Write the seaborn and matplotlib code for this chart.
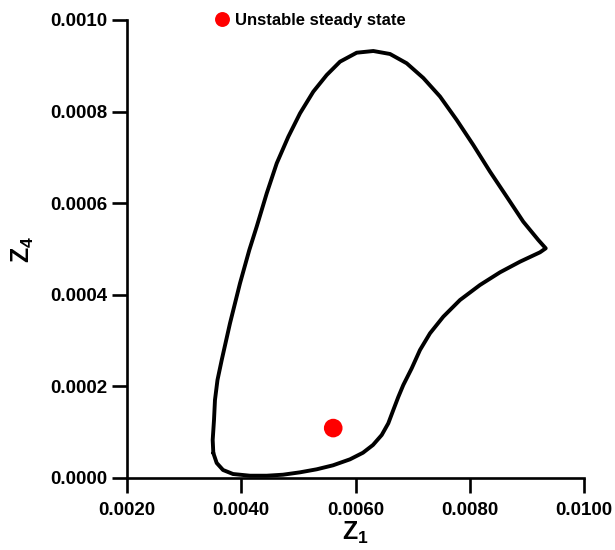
import matplotlib
matplotlib.use("Agg")
import matplotlib.pyplot as plt
import seaborn as sns
import pandas as pd
from matplotlib.ticker import FormatStrFormatter

# Limit cycle trajectory (Z1, Z4)
z1 = [0.003511, 0.003500, 0.003523, 0.003540, 0.003584, 0.003658, 0.003803, 0.003978,
      0.004141, 0.004270, 0.004446, 0.004621, 0.004824, 0.005029, 0.005261, 0.005496,
      0.005729, 0.006021, 0.006312, 0.006604, 0.006896, 0.007187, 0.007479, 0.007772,
      0.008062, 0.008355, 0.008647, 0.008937, 0.009200, 0.009330, 0.009230, 0.008880,
      0.008530, 0.008179, 0.007829, 0.007537, 0.007304, 0.007129, 0.006984, 0.006837,
      0.006749, 0.006662, 0.006574, 0.006459, 0.006306, 0.006131, 0.005904, 0.005606,
      0.005321, 0.005029, 0.004731, 0.004446, 0.004153, 0.003856, 0.003681, 0.003570,
      0.003511]
z4 = [0.0000546, 0.0000830, 0.0001266, 0.0001703, 0.0002140, 0.0002576, 0.0003378, 0.0004251,
      0.0004978, 0.0005487, 0.0006216, 0.0006871, 0.0007452, 0.0007963, 0.0008435, 0.0008799,
      0.0009090, 0.0009286, 0.0009323, 0.0009258, 0.0009055, 0.0008734, 0.0008330, 0.0007817,
      0.0007271, 0.0006688, 0.0006142, 0.0005596, 0.0005197, 0.0005015, 0.0004928, 0.0004723,
      0.0004491, 0.0004214, 0.0003886, 0.0003522, 0.0003159, 0.0002795, 0.0002395, 0.0002031,
      0.0001769, 0.0001485, 0.0001194, 0.0000939, 0.0000721, 0.0000552, 0.0000408, 0.0000277,
      0.0000190, 0.0000124, 0.0000072, 0.0000050, 0.0000050, 0.0000087, 0.0000175, 0.0000328,
      0.0000546]

# Unstable steady state
ss_z1 = [0.00561]
ss_z4 = [0.000109]
ss_label = "Unstable steady state"

x_ticks = [0.002, 0.004, 0.006, 0.008, 0.010]
y_ticks = [0.0, 0.0002, 0.0004, 0.0006, 0.0008, 0.0010]

sns.set_theme(style="ticks")
plt.rcParams['font.family'] = ['Liberation Sans', 'DejaVu Sans']
plt.rcParams['font.weight'] = 'bold'
plt.rcParams['mathtext.fontset'] = 'custom'
plt.rcParams['mathtext.bf'] = 'Liberation Sans:bold'
plt.rcParams['mathtext.rm'] = 'Liberation Sans:bold'
plt.rcParams['mathtext.it'] = 'Liberation Sans:bold'
plt.rcParams['mathtext.default'] = 'bf'

fig = plt.figure(figsize=(6.15, 5.5), dpi=100)
ax = fig.add_axes([127/615, 1 - 478/550, 457/615, 458/550])

cyc = pd.DataFrame({"Z1": z1, "Z4": z4})
sns.lineplot(data=cyc, x="Z1", y="Z4", sort=False, estimator=None, color="black",
             linewidth=2.8, ax=ax, legend=False, solid_joinstyle="round",
             solid_capstyle="round")
ss = pd.DataFrame({"Z1": ss_z1, "Z4": ss_z4, "label": [ss_label]})
sns.scatterplot(data=ss, x="Z1", y="Z4", hue="label", palette=["#ff0000"], s=180,
                edgecolor="none", ax=ax, zorder=5)

ax.set_xlim(0.002, 0.010)
ax.set_ylim(0.0, 0.0010)
ax.set_xticks(x_ticks)
ax.set_yticks(y_ticks)
ax.xaxis.set_major_formatter(FormatStrFormatter('%.4f'))
ax.yaxis.set_major_formatter(FormatStrFormatter('%.4f'))
for s in ["top", "right"]:
    ax.spines[s].set_visible(False)
for s in ["left", "bottom"]:
    ax.spines[s].set_linewidth(1.9)
    ax.spines[s].set_color("black")
ax.tick_params(axis='both', direction='out', length=11, width=1.9, color="black",
               labelsize=13.5, labelcolor="black")
ax.tick_params(axis='x', pad=6)
ax.tick_params(axis='y', pad=3)
for lab in ax.get_xticklabels() + ax.get_yticklabels():
    lab.set_fontweight('bold')

ax.set_xlabel(r'Z$_{1}$', fontsize=18, fontweight='bold', labelpad=1, color="black")
ax.set_ylabel(r'Z$_{4}$', fontsize=18, fontweight='bold', labelpad=10, color="black")

leg = ax.legend(loc='center left', bbox_to_anchor=(0.186, 1.0), frameon=False,
                borderaxespad=0, borderpad=0, handlelength=1.2, handletextpad=0.2,
                markerscale=0.8, prop={'weight': 'bold', 'size': 12})
for t in leg.get_texts():
    t.set_color("black")

fig.savefig("out.png", dpi=100, facecolor="white")
